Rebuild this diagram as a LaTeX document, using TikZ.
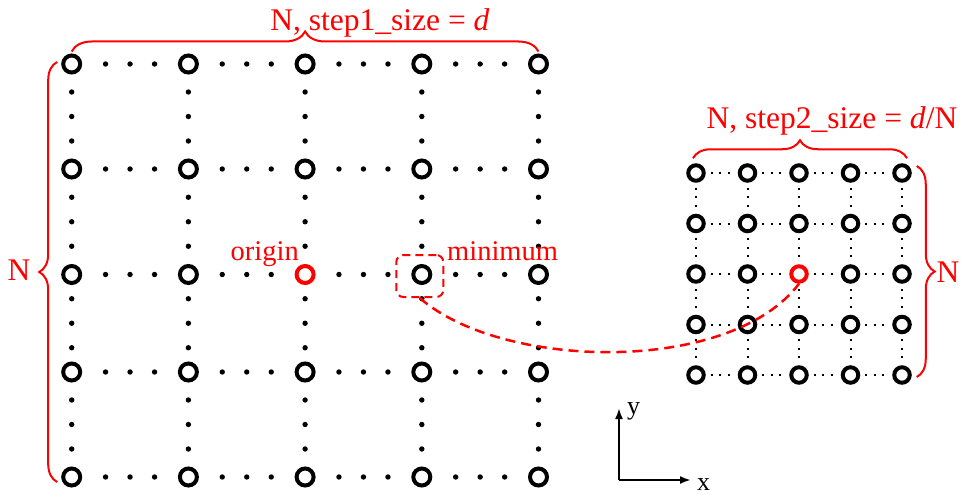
\documentclass[tikz,border=0pt]{standalone}
\usepackage{fontspec}
\setmainfont{Liberation Serif}
\usepackage{tikz}
\usetikzlibrary{
  positioning,
  arrows.meta,
  calc,
  decorations.pathreplacing
}
\definecolor{markred}{RGB}{255,0,0}

\begin{document}
\begin{tikzpicture}[
  x=1pt, y=-1pt,
  >={Latex[length=11pt,width=8pt]},
  % --- node styles ---
  bigpt/.style={
    circle, draw=black, line width=4pt,
    minimum size=17pt, inner sep=0pt
  },
  smallpt/.style={
    circle, draw=black, line width=4pt,
    minimum size=15.5pt, inner sep=0pt
  },
  lbl/.style={text=markred, inner sep=0pt, font=\fontsize{31.5}{36}\selectfont},
  tag/.style={text=markred, inner sep=0pt, font=\fontsize{28.5}{32}\selectfont},
  axlbl/.style={inner sep=0pt, font=\fontsize{26}{30}\selectfont},
  minbox/.style={
    draw=markred, line width=2pt, dash pattern=on 8pt off 5pt,
    rounded corners=7pt, minimum width=47pt, minimum height=42pt
  },
  % --- line styles ---
  finedots/.style={line width=2pt, dash pattern=on 2pt off 6.5pt,
    shorten <=5pt, shorten >=4pt},
  brc/.style={draw=markred, line width=2pt, decorate,
    decoration={brace, amplitude=#1}},
  link/.style={draw=markred, line width=2.5pt, dash pattern=on 10pt off 6pt},
  axis/.style={->, line width=2pt},
]
\useasboundingbox (0,0) rectangle (961,495);

% Left grid: step1
\foreach \ypos [count=\row] in {64,169,274.5,372,477}{
  \foreach \col in {1,...,5}{
    \ifnum\row\col=33 \def\pcol{markred}\else\def\pcol{black}\fi
    \node[bigpt, draw=\pcol] (L-\row-\col) at ({71.7+116.7*(\col-1)},\ypos) {};
  }
}

% big dots between neighbours
\foreach \row in {1,...,5}{
  \foreach \col in {1,...,4}{
    \pgfmathtruncatemacro\nxt{\col+1}
    \coordinate (mh) at ($(L-\row-\col)!0.5!(L-\row-\nxt)$);
    \coordinate (mv) at ($(L-\col-\row)!0.5!(L-\nxt-\row)$);
    \foreach \s in {-24.5,0,24.5}{
      \fill ($(mh)!\s pt!(L-\row-\nxt)$) circle (2.7pt);
      \fill ($(mv)!\s pt!(L-\nxt-\row)$) circle (2.7pt);
    }
  }
}

% Right grid: step2
\foreach \row in {1,...,5}{
  \foreach \col in {1,...,5}{
    \ifnum\row\col=33 \def\pcol{markred}\else\def\pcol{black}\fi
    \node[smallpt, draw=\pcol] (R-\row-\col) at ({696+51.5*(\col-1)},{173+50.5*(\row-1)}) {};
  }
}
\foreach \row in {1,...,5}{
  \foreach \col in {1,...,4}{
    \pgfmathtruncatemacro\nxt{\col+1}
    \draw[finedots] (R-\row-\col) -- (R-\row-\nxt);
    \draw[finedots] (R-\col-\row) -- (R-\nxt-\row);
  }
}

% Braces + labels
\draw[brc=20pt] ([yshift=2pt]L-1-1.north) -- ([yshift=2pt]L-1-5.north);
\draw[brc=18pt] ([xshift=-4pt,yshift=-5pt]L-5-1.west) -- ([xshift=-4pt,yshift=2pt]L-1-1.west);
\draw[brc=18pt] ([xshift=-3pt,yshift=5pt]R-1-1.north) -- ([xshift=5pt,yshift=5pt]R-1-5.north);
\draw[brc=18pt] ([xshift=5pt,yshift=7pt]R-1-5.east) -- ([xshift=5pt,yshift=-2pt]R-5-5.east);

\node[lbl, anchor=base] (top1) at (380,31) {N, step1\_size = \textit{d}};
\node[lbl, anchor=base] (top2) at (832,128) {N, step2\_size = \textit{d}/N};
\node[lbl, anchor=base] (side1) at (19,280) {N};
\node[lbl, anchor=base] (side2) at (948,282) {N};

% origin / minimum
\node[tag, anchor=base east] (lorigin) at (299,260) {origin};
\node[tag, anchor=base west] (lmin) at (447,260) {minimum};
\node[minbox] (box) at ($(L-3-4)+(-2,1.5)$) {};

% zoom-in link
\draw[link] (box.south) .. controls (502,370) and (730,375) .. (R-3-3.south);

% Axes
\coordinate (ax0) at (619,480);
\coordinate (ytip) at (619,408);
\coordinate (xtip) at (691,480);
\draw[axis] (ax0) -- (ytip);
\draw[axis] (ax0) -- (xtip);
\node[axlbl, anchor=base west] (ylab) at (627,414) {y};
\node[axlbl, anchor=base west] (xlab) at (697,490) {x};

\end{tikzpicture}
\end{document}
